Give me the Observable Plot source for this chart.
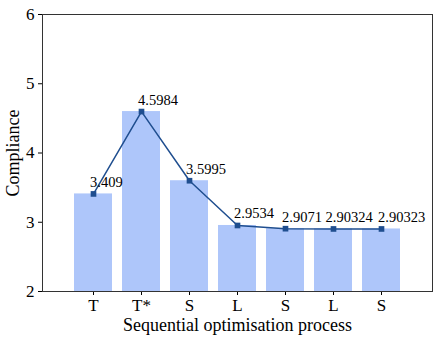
<!DOCTYPE html>
<html>
<head>
<meta charset="utf-8">
<script src="https://cdn.jsdelivr.net/npm/d3@7"></script>
<script src="https://cdn.jsdelivr.net/npm/@observablehq/plot@0.6"></script>
<style>
  html, body { margin: 0; padding: 0; background: #fff; }
  #chart { width: 444px; height: 341px; }
</style>
</head>
<body>
<div id="chart"></div>
<script>
const steps = ["T", "T*", "S", "L", "S", "L", "S"];
const compliance = [3.409, 4.5984, 3.5995, 2.9534, 2.9071, 2.90324, 2.90323];
const valueLabels = ["3.409", "4.5984", "3.5995", "2.9534", "2.9071", "2.90324", "2.90323"];
const yTicks = [2, 3, 4, 5, 6];

const data = steps.map((s, i) => ({idx: i, step: s, value: compliance[i], label: valueLabels[i]}));

const font = "Liberation Serif";

const chart = Plot.plot({
  width: 444,
  height: 341,
  marginLeft: 42,
  marginRight: 12,
  marginTop: 14,
  marginBottom: 50,
  style: {fontFamily: font, fontSize: "16px", background: "#fff", color: "#000"},
  x: {
    type: "band",
    domain: data.map(d => d.idx),
    paddingInner: 0.2,
    paddingOuter: 0.6,
    align: 0.5,
    label: null
  },
  y: {domain: [2, 6], label: null},
  marks: [
    Plot.barY(data, {x: "idx", y1: 2, y2: "value", fill: "#aec6fa"}),
    Plot.line(data, {x: "idx", y: "value", stroke: "#1f4e8f", strokeWidth: 1.5}),
    Plot.dot(data, {x: "idx", y: "value", symbol: "square", r: 3.2, fill: "#1f4e8f", stroke: "none"}),
    Plot.text(data, {filter: d => d.idx !== 5, x: "idx", y: "value", text: "label", textAnchor: "start", lineAnchor: "bottom", dx: -3.5, dy: -7, fontSize: 14.5, fill: "#000", fontFamily: font}),
    Plot.text(data, {filter: d => d.idx === 5, x: "idx", y: "value", text: "label", textAnchor: "start", lineAnchor: "bottom", dx: -8, dy: -7, fontSize: 14.5, fill: "#000", fontFamily: font}),
    Plot.axisY({ticks: yTicks, tickFormat: d3.format("d"), tickSize: 4, tickPadding: 4, fontSize: 17, label: null, fontFamily: font}),
    Plot.axisX({tickFormat: i => steps[i], tickSize: 4, tickPadding: 3, fontSize: 17, label: null, fontFamily: font}),
    Plot.frame({stroke: "#333", strokeWidth: 1}),
    Plot.text(["Compliance"], {frameAnchor: "left", dx: -29, rotate: -90, fontSize: 18, textAnchor: "middle", fontFamily: font}),
    Plot.text(["Sequential optimisation process"], {frameAnchor: "bottom", dy: 39, fontSize: 18, textAnchor: "middle", fontFamily: font})
  ]
});
document.getElementById("chart").appendChild(chart);
</script>
</body>
</html>
